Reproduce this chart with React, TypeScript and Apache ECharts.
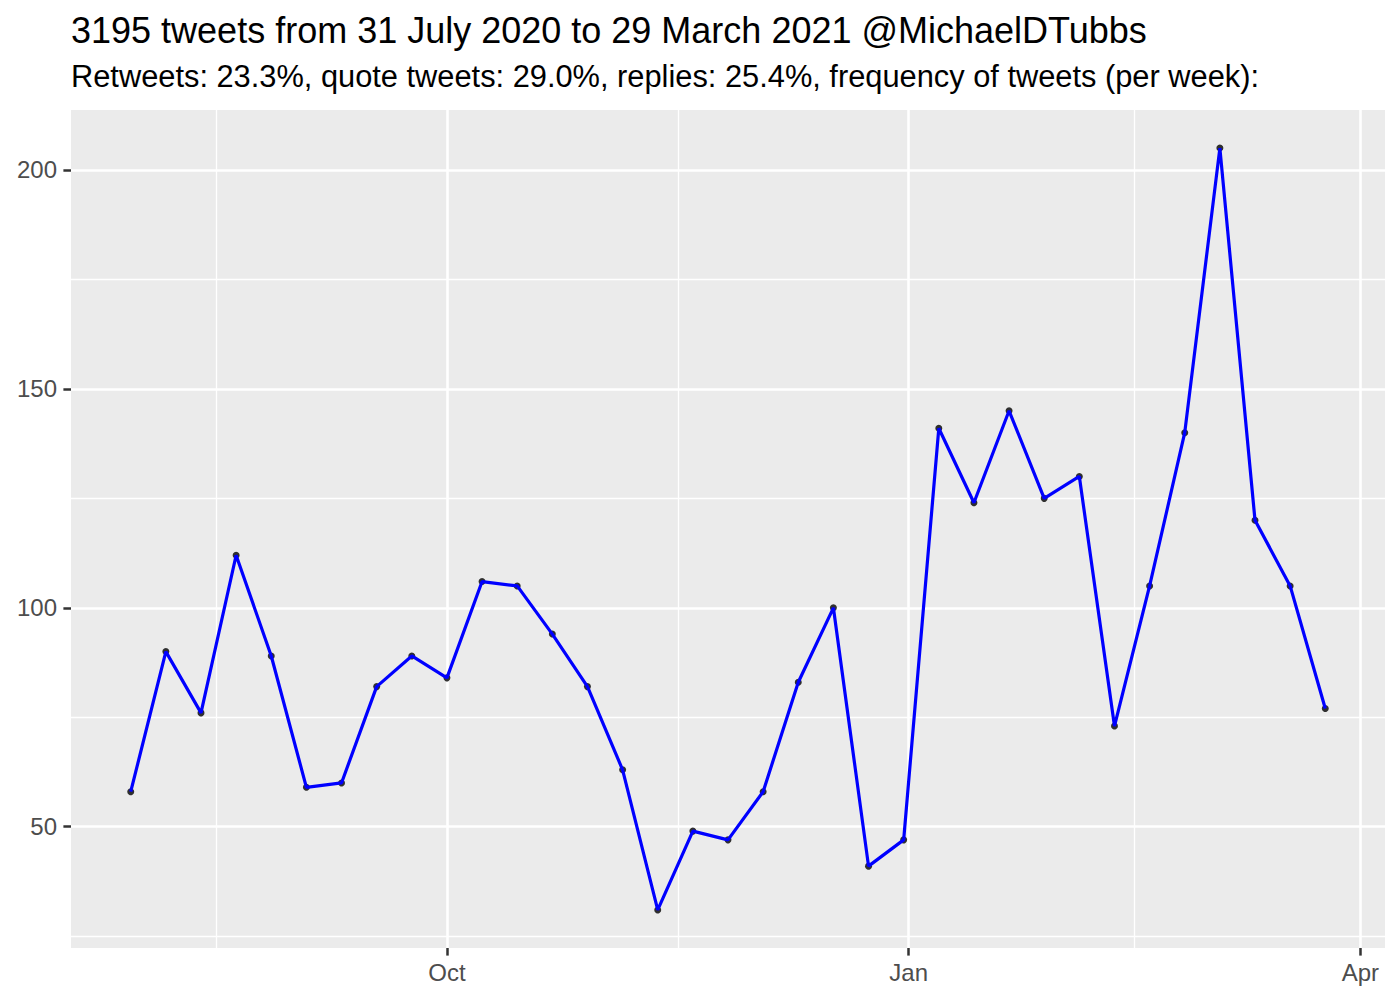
import React, { useEffect, useRef } from "react";
import * as echarts from "echarts";

const titleText = "3195 tweets from 31 July 2020 to 29 March 2021 @MichaelDTubbs";
const subtitleText =
  "Retweets: 23.3%, quote tweets: 29.0%, replies: 25.4%, frequency of tweets (per week):";

const weeks = [
  "2020-07-30", "2020-08-06", "2020-08-13", "2020-08-20", "2020-08-27",
  "2020-09-03", "2020-09-10", "2020-09-17", "2020-09-24", "2020-10-01",
  "2020-10-08", "2020-10-15", "2020-10-22", "2020-10-29", "2020-11-05",
  "2020-11-12", "2020-11-19", "2020-11-26", "2020-12-03", "2020-12-10",
  "2020-12-17", "2020-12-24", "2020-12-31", "2021-01-07", "2021-01-14",
  "2021-01-21", "2021-01-28", "2021-02-04", "2021-02-11", "2021-02-18",
  "2021-02-25", "2021-03-04", "2021-03-11", "2021-03-18", "2021-03-25",
];
const tweetsPerWeek = [
  58, 90, 76, 112, 89, 59, 60, 82, 89, 84,
  106, 105, 94, 82, 63, 31, 49, 47, 58, 83,
  100, 41, 47, 141, 124, 145, 125, 130, 73, 105,
  140, 205, 120, 105, 77,
];

const xTickDates = ["2020-10-01", "2021-01-01", "2021-04-01"];
const xTickLabels = ["Oct", "Jan", "Apr"];
const xMinorDates = ["2020-08-16", "2020-11-16", "2021-02-15"];
const yTicks = [50, 100, 150, 200];
const yMinor = [25, 75, 125, 175];

const FONT = "'Liberation Sans', Arial, Helvetica, sans-serif";

const ts = (d: string) => {
  const [y, m, dd] = d.split("-").map(Number);
  return Date.UTC(y, m - 1, dd);
};

export default function App() {
  const ref = useRef<HTMLDivElement>(null);

  useEffect(() => {
    if (!ref.current) return;
    const chart = echarts.init(ref.current, undefined, { renderer: "svg" });

    const xs = weeks.map(ts);
    const xSpan = xs[xs.length - 1] - xs[0];
    const xMin = xs[0] - xSpan * 0.05;
    const xMax = xs[xs.length - 1] + xSpan * 0.05;
    const yLo = Math.min(...tweetsPerWeek);
    const yHi = Math.max(...tweetsPerWeek);
    const ySpan = yHi - yLo;
    const yMin = yLo - ySpan * 0.05;
    const yMax = yHi + ySpan * 0.05;

    const tickTs = xTickDates.map(ts);
    const data = xs.map((x, i) => [x, tweetsPerWeek[i]]);

    const minorStyle = { color: "#ffffff", width: 1.3, type: "solid" };
    const majorStyle = { color: "#ffffff", width: 2.6, type: "solid" };
    const gridLines = [
      ...yMinor.map((v) => ({ yAxis: v, lineStyle: minorStyle })),
      ...xMinorDates.map((d) => ({ xAxis: ts(d), lineStyle: minorStyle })),
      ...yTicks.map((v) => ({ yAxis: v, lineStyle: majorStyle })),
      ...tickTs.map((t) => ({ xAxis: t, lineStyle: majorStyle })),
    ];

    chart.setOption({
      animation: false,
      backgroundColor: "#ffffff",
      textStyle: { fontFamily: FONT },
      graphic: [
        {
          type: "text",
          x: 71,
          y: 30,
          style: {
            text: titleText,
            fontSize: 36,
            fontFamily: FONT,
            fill: "#000000",
            verticalAlign: "middle",
          },
        },
        {
          type: "text",
          x: 71,
          y: 76,
          style: {
            text: subtitleText,
            fontSize: 30.8,
            fontFamily: FONT,
            fill: "#000000",
            verticalAlign: "middle",
          },
        },
      ],
      grid: {
        left: 71,
        right: 15,
        top: 110,
        bottom: 52,
        show: true,
        backgroundColor: "#EBEBEB",
        borderWidth: 0,
        containLabel: false,
      },
      xAxis: {
        type: "value",
        min: xMin,
        max: xMax,
        axisLine: { show: false },
        splitLine: { show: false },
        axisTick: {
          show: true,
          customValues: tickTs,
          length: 7.6,
          lineStyle: { color: "#333333", width: 2.5 },
        },
        axisLabel: {
          show: true,
          customValues: tickTs,
          margin: 12,
          color: "#4D4D4D",
          fontSize: 24,
          fontFamily: FONT,
          formatter: (v: number) => {
            const idx = tickTs.findIndex((t) => Math.abs(t - v) < 3600 * 1000);
            return idx >= 0 ? xTickLabels[idx] : "";
          },
        },
      },
      yAxis: {
        type: "value",
        min: yMin,
        max: yMax,
        axisLine: { show: false },
        splitLine: { show: false },
        axisTick: {
          show: true,
          customValues: yTicks,
          length: 7.6,
          lineStyle: { color: "#333333", width: 2.5 },
        },
        axisLabel: {
          show: true,
          customValues: yTicks,
          margin: 14,
          color: "#4D4D4D",
          fontSize: 24,
          fontFamily: FONT,
        },
      },
      series: [
        {
          name: "grid",
          type: "line",
          data: data,
          showSymbol: false,
          symbol: "none",
          lineStyle: { opacity: 0, width: 0 },
          silent: true,
          z: 1,
          markLine: {
            z: 1,
            silent: true,
            symbol: ["none", "none"],
            label: { show: false },
            animation: false,
            data: gridLines,
          },
        },
        {
          name: "points",
          type: "scatter",
          data: data,
          symbol: "circle",
          symbolSize: 7,
          itemStyle: { color: "#000000" },
          z: 8,
        },
        {
          name: "tweets",
          type: "line",
          data: data,
          showSymbol: false,
          symbol: "none",
          lineStyle: { color: "#0000FF", width: 3.2 },
          z: 9,
        },
      ],
    });

    return () => chart.dispose();
  }, []);

  return (
    <div
      ref={ref}
      style={{ position: "fixed", left: 0, top: 0, width: 1400, height: 1000 }}
    />
  );
}
